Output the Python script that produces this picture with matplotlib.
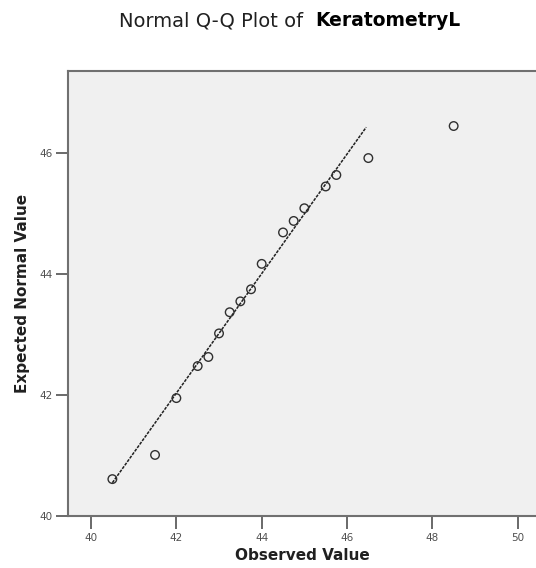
import matplotlib
matplotlib.use("Agg")
import matplotlib.pyplot as plt

observed = [40.5, 41.5, 42.0, 42.5, 42.75, 43.0, 43.25, 43.5, 43.75, 44.0,
            44.5, 44.75, 45.0, 45.5, 45.75, 46.5, 48.5]
expected = [40.61, 41.01, 41.95, 42.48, 42.63, 43.02, 43.37, 43.55, 43.75, 44.17,
            44.69, 44.88, 45.09, 45.45, 45.64, 45.92, 46.45]
line_x = [40.5, 46.45]
line_y = [40.55, 46.43]
x_ticks = [40, 42, 44, 46, 48, 50]
y_ticks = [40, 42, 44, 46]

plt.rcParams['font.family'] = ['DejaVu Sans']

fig = plt.figure(figsize=(5.36, 5.68), dpi=100)
ax = fig.add_axes([68 / 536, 52 / 568, 468 / 536, 445 / 568])
ax.set_facecolor('#f0f0f0')

ax.plot(line_x, line_y, color='#202020', lw=1.1, linestyle=(0, (2, 0.8)))
ax.scatter(observed, expected, s=38, facecolors='none', edgecolors='#303030',
           linewidths=1.0, zorder=3)

ax.set_xlim(39.46, 50.43)
ax.set_ylim(40.0, 47.36)
ax.set_xticks(x_ticks)
ax.set_yticks(y_ticks)
ax.tick_params(axis='both', direction='out', length=9, width=1.2,
               colors='#505050', labelsize=7.5)
ax.tick_params(axis='x', pad=3)
ax.tick_params(axis='y', pad=2)

for side in ['left', 'top', 'bottom']:
    ax.spines[side].set_color('#707070')
    ax.spines[side].set_linewidth(1.5)
ax.spines['right'].set_visible(False)

ax.set_xlabel('Observed Value', fontsize=11, fontweight='bold', color='#202020',
              labelpad=4)
ax.set_ylabel('Expected Normal Value', fontsize=11, fontweight='bold',
              color='#202020', labelpad=7)

fig.text(303 / 536, 1 - 21 / 568, 'Normal Q-Q Plot of', ha='right', va='center',
         fontsize=14, fontweight='medium', color='#202020')
fig.text(315 / 536, 1 - 21 / 568, 'KeratometryL', ha='left', va='center',
         fontsize=13.5, fontweight='bold', color='black')

fig.savefig('out.png', dpi=100)
